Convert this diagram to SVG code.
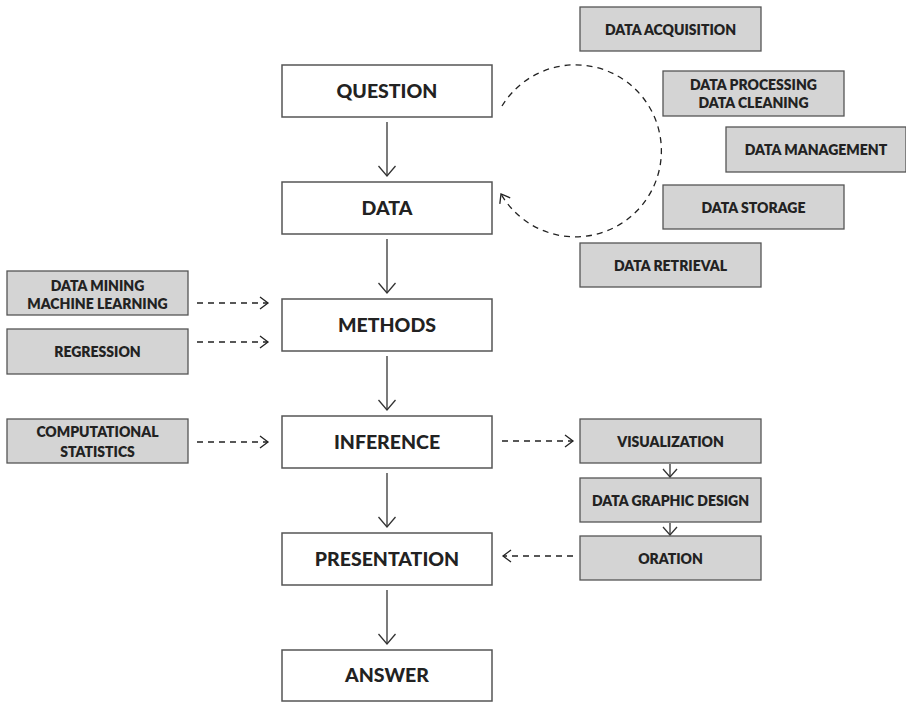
<svg xmlns="http://www.w3.org/2000/svg" width="906" height="702" viewBox="0 0 906 702">
  <style>
    .main rect { fill: #ffffff; stroke: #555555; stroke-width: 1.5; }
    .main text { font-family: Lato, "Noto Sans", sans-serif; font-weight: 900; font-size: 19.5px; fill: #222222; text-anchor: middle; }
    .side rect { fill: #d4d4d4; stroke: #555555; stroke-width: 1.3; }
    .side text { font-family: Lato, "Noto Sans", sans-serif; font-weight: 800; font-size: 14px; fill: #222222; text-anchor: middle; }
    .flow { stroke: #333333; stroke-width: 1.3; fill: none; }
    .dash { stroke: #222222; stroke-width: 1.3; fill: none; stroke-dasharray: 6 5; }
  </style>
  <defs>
    <marker id="headBig" markerUnits="userSpaceOnUse" markerWidth="20" markerHeight="20" orient="auto" overflow="visible">
      <path d="M-10,-8.5 L0,0 L-10,8.5" fill="none" stroke="#333333" stroke-width="1.3"/>
    </marker>
    <marker id="headDash" markerUnits="userSpaceOnUse" markerWidth="20" markerHeight="20" orient="auto" overflow="visible">
      <path d="M-8,-6 L0,0 L-8,6" fill="none" stroke="#222222" stroke-width="1.3"/>
    </marker>
    <marker id="headSmall" markerUnits="userSpaceOnUse" markerWidth="20" markerHeight="20" orient="auto" overflow="visible">
      <path d="M-8,-7 L0,0 L-8,7" fill="none" stroke="#333333" stroke-width="1.3"/>
    </marker>
  </defs>

  <!-- main pipeline -->
  <g id="question" class="main"><rect x="282" y="65" width="210" height="52"/><text x="387" y="98">QUESTION</text></g>
  <g id="data" class="main"><rect x="282" y="182" width="210" height="52"/><text x="387" y="215">DATA</text></g>
  <g id="methods" class="main"><rect x="282" y="299" width="210" height="52"/><text x="387" y="332">METHODS</text></g>
  <g id="inference" class="main"><rect x="282" y="416" width="210" height="52"/><text x="387" y="449">INFERENCE</text></g>
  <g id="presentation" class="main"><rect x="282" y="533" width="210" height="52"/><text x="387" y="566">PRESENTATION</text></g>
  <g id="answer" class="main"><rect x="282" y="650" width="210" height="51"/><text x="387" y="682">ANSWER</text></g>

  <!-- data lifecycle -->
  <g id="data-acquisition" class="side"><rect x="580" y="7" width="181" height="44"/><text x="670.5" y="34.5">DATA ACQUISITION</text></g>
  <g id="data-processing" class="side"><rect x="663" y="71" width="181" height="45"/><text x="753.5" y="90">DATA PROCESSING</text><text x="753.5" y="108">DATA CLEANING</text></g>
  <g id="data-management" class="side"><rect x="726" y="127" width="180" height="45"/><text x="816" y="154.5">DATA MANAGEMENT</text></g>
  <g id="data-storage" class="side"><rect x="663" y="185" width="181" height="44"/><text x="753.5" y="212.5">DATA STORAGE</text></g>
  <g id="data-retrieval" class="side"><rect x="580" y="243" width="181" height="44"/><text x="670.5" y="270.5">DATA RETRIEVAL</text></g>

  <!-- method inputs -->
  <g id="data-mining" class="side"><rect x="7" y="271" width="181" height="44"/><text x="97.5" y="291">DATA MINING</text><text x="97.5" y="309">MACHINE LEARNING</text></g>
  <g id="regression" class="side"><rect x="7" y="329" width="181" height="45"/><text x="97.5" y="356.5">REGRESSION</text></g>
  <g id="computational-statistics" class="side"><rect x="7" y="419" width="181" height="44"/><text x="97.5" y="437">COMPUTATIONAL</text><text x="97.5" y="457">STATISTICS</text></g>

  <!-- presentation chain -->
  <g id="visualization" class="side"><rect x="580" y="419" width="181" height="44"/><text x="670.5" y="446.5">VISUALIZATION</text></g>
  <g id="data-graphic-design" class="side"><rect x="580" y="478" width="181" height="44"/><text x="670.5" y="505.5">DATA GRAPHIC DESIGN</text></g>
  <g id="oration" class="side"><rect x="580" y="536" width="181" height="44"/><text x="670.5" y="563.5">ORATION</text></g>

  <g id="connectors">
    <line class="flow" x1="387" y1="122" x2="387" y2="176" marker-end="url(#headBig)"/>
    <line class="flow" x1="387" y1="239" x2="387" y2="293" marker-end="url(#headBig)"/>
    <line class="flow" x1="387" y1="356" x2="387" y2="410" marker-end="url(#headBig)"/>
    <line class="flow" x1="387" y1="473" x2="387" y2="527" marker-end="url(#headBig)"/>
    <line class="flow" x1="387" y1="590" x2="387" y2="644" marker-end="url(#headBig)"/>

    <line class="flow" x1="670" y1="464" x2="670" y2="477" marker-end="url(#headSmall)"/>
    <line class="flow" x1="670" y1="523" x2="670" y2="535" marker-end="url(#headSmall)"/>

    <line class="dash" x1="197" y1="303" x2="268" y2="303" marker-end="url(#headDash)"/>
    <line class="dash" x1="197" y1="342" x2="268" y2="342" marker-end="url(#headDash)"/>
    <line class="dash" x1="197" y1="442" x2="268" y2="442" marker-end="url(#headDash)"/>
    <line class="dash" x1="502" y1="441" x2="573" y2="441" marker-end="url(#headDash)"/>
    <line class="dash" x1="573" y1="556" x2="503" y2="556" marker-end="url(#headDash)"/>

    <!-- lifecycle loop back into DATA -->
    <path class="dash" d="M502,106 A86,86 0 1 1 501,194" marker-end="url(#headDash)"/>
  </g>
</svg>
